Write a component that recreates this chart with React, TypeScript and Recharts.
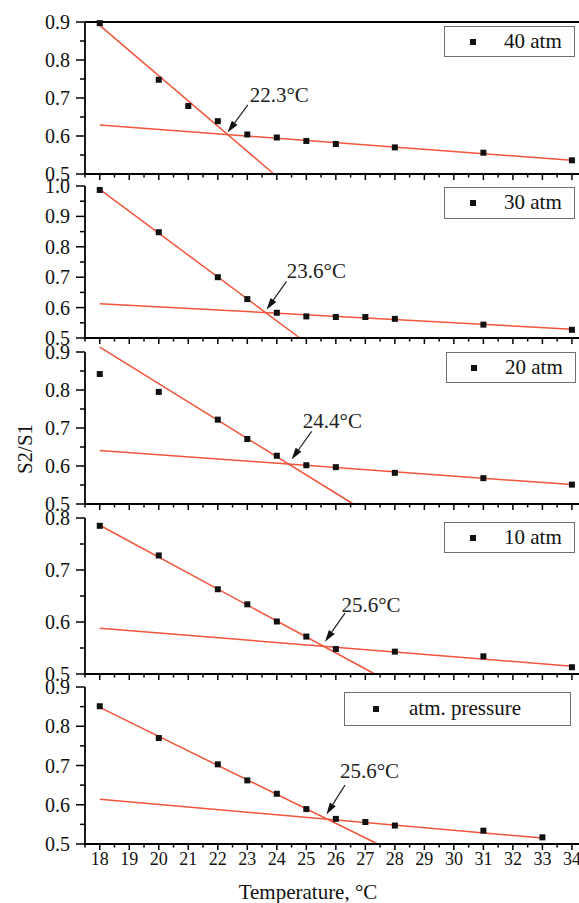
import {
  ComposedChart,
  Legend,
  ReferenceDot,
  ReferenceLine,
  Scatter,
  XAxis,
  YAxis,
} from "recharts";

const FONT = '"Liberation Serif", "Times New Roman", Times, serif';
const FIT = "#f0553b";
const INK = "#111";
const PAD = 12;
const X_DOMAIN: [number, number] = [17.5, 34.24];

// S2/S1 against temperature, one pair of arrays per pressure
const temps40 = [18, 20, 21, 22, 23, 24, 25, 26, 28, 31, 34];
const ratio40 = [0.897, 0.748, 0.679, 0.639, 0.604, 0.596, 0.587, 0.579, 0.57, 0.556, 0.536];
const temps30 = [18, 20, 22, 23, 24, 25, 26, 27, 28, 31, 34];
const ratio30 = [0.987, 0.848, 0.7, 0.628, 0.583, 0.571, 0.569, 0.569, 0.563, 0.544, 0.527];
const temps20 = [18, 20, 22, 23, 24, 25, 26, 28, 31, 34];
const ratio20 = [0.842, 0.795, 0.722, 0.671, 0.627, 0.602, 0.597, 0.582, 0.568, 0.551];
const temps10 = [18, 20, 22, 23, 24, 25, 26, 28, 31, 34];
const ratio10 = [0.785, 0.728, 0.663, 0.634, 0.601, 0.572, 0.548, 0.543, 0.534, 0.513];
const tempsAtm = [18, 20, 22, 23, 24, 25, 26, 27, 28, 31, 33];
const ratioAtm = [0.851, 0.77, 0.703, 0.662, 0.628, 0.589, 0.564, 0.556, 0.547, 0.534, 0.517];

// fitted lines: start/end temperature and start/end S2/S1
const steepT40 = [18, 23.9];
const steepS40 = [0.891, 0.5];
const flatT40 = [18, 34];
const flatS40 = [0.629, 0.536];
const steepT30 = [18, 24.78];
const steepS30 = [0.989, 0.5];
const flatT30 = [18, 34];
const flatS30 = [0.613, 0.529];
const steepT20 = [18, 26.59];
const steepS20 = [0.913, 0.5];
const flatT20 = [18, 34];
const flatS20 = [0.641, 0.551];
const steepT10 = [18, 27.32];
const steepS10 = [0.786, 0.5];
const flatT10 = [18, 34];
const flatS10 = [0.588, 0.515];
const steepTAtm = [18, 27.42];
const steepSAtm = [0.848, 0.5];
const flatTAtm = [18, 33];
const flatSAtm = [0.614, 0.515];

const legendLabels = ["40 atm", "30 atm", "20 atm", "10 atm", "atm. pressure"];
const breakLabels = ["22.3°C", "23.6°C", "24.4°C", "25.6°C", "25.6°C"];

// annotation text anchor, arrow tail and arrow tip (temperature, S2/S1)
const noteAt = [
  [23.08, 0.69],
  [24.34, 0.698],
  [24.88, 0.701],
  [26.19, 0.619],
  [26.14, 0.668],
];
const arrowFrom = [
  [23.02, 0.682],
  [24.33, 0.686],
  [25.18, 0.691],
  [26.31, 0.617],
  [26.31, 0.65],
];
const arrowTo = [
  [22.33, 0.609],
  [23.65, 0.593],
  [24.5, 0.617],
  [25.63, 0.562],
  [25.68, 0.575],
];

const xMajorTicks = [18, 19, 20, 21, 22, 23, 24, 25, 26, 27, 28, 29, 30, 31, 32, 33, 34];
const xTicks = xMajorTicks.flatMap((t) => [t - 0.5, t]);
const yTicks09 = [0.5, 0.55, 0.6, 0.65, 0.7, 0.75, 0.8, 0.85, 0.9];
const yTicks10 = [0.5, 0.55, 0.6, 0.65, 0.7, 0.75, 0.8, 0.85, 0.9, 0.95, 1.0];
const yTicks08 = [0.5, 0.55, 0.6, 0.65, 0.7, 0.75, 0.8];

type Box = { left: number; top: number; w: number; h: number; mark: number; text: number };

type Panel = {
  top: number;
  plotH: number;
  axisH: number;
  yMax: number;
  yTicks: number[];
  temps: number[];
  ratios: number[];
  steepT: number[];
  steepS: number[];
  flatT: number[];
  flatS: number[];
  box: Box;
  topBorder?: boolean;
};

const panels: Panel[] = [
  {
    top: 22, plotH: 152, axisH: 12, yMax: 0.9, yTicks: yTicks09,
    temps: temps40, ratios: ratio40, steepT: steepT40, steepS: steepS40, flatT: flatT40, flatS: flatS40,
    box: { left: 444, top: 16, w: 131, h: 31, mark: 28, text: 59 }, topBorder: true,
  },
  {
    top: 186, plotH: 152, axisH: 12, yMax: 1.0, yTicks: yTicks10,
    temps: temps30, ratios: ratio30, steepT: steepT30, steepS: steepS30, flatT: flatT30, flatS: flatS30,
    box: { left: 444, top: 13, w: 131, h: 32, mark: 28, text: 59 },
  },
  {
    top: 352, plotH: 152, axisH: 12, yMax: 0.9, yTicks: yTicks09,
    temps: temps20, ratios: ratio20, steepT: steepT20, steepS: steepS20, flatT: flatT20, flatS: flatS20,
    box: { left: 446, top: 12, w: 130, h: 31, mark: 27, text: 58 },
  },
  {
    top: 518, plotH: 156, axisH: 12, yMax: 0.8, yTicks: yTicks08,
    temps: temps10, ratios: ratio10, steepT: steepT10, steepS: steepS10, flatT: flatT10, flatS: flatS10,
    box: { left: 444, top: 16, w: 131, h: 31, mark: 28, text: 59 },
  },
  {
    top: 687, plotH: 157, axisH: 59, yMax: 0.9, yTicks: yTicks09,
    temps: tempsAtm, ratios: ratioAtm, steepT: steepTAtm, steepS: steepSAtm, flatT: flatTAtm, flatS: flatSAtm,
    box: { left: 344, top: 17, w: 227, h: 34, mark: 31, text: 64 },
  },
];

const axisStyle = { stroke: "#000", strokeWidth: 1.8 };

const XTick = (props: any) => {
  const { x, y, payload, showLabel } = props;
  const v = payload.value;
  const major = Number.isInteger(v);
  return (
    <g>
      <line x1={x} y1={y} x2={x} y2={y + (major ? 6 : 3.5)} stroke="#000" strokeWidth={1.5} />
      {showLabel && major && (
        <text x={x} y={y + 21} textAnchor="middle" fontFamily={FONT} fontSize={18} fill="#111">
          {v}
        </text>
      )}
    </g>
  );
};

const YTick = (props: any) => {
  const { x, y, payload } = props;
  const v = payload.value;
  const major = Math.abs(v * 10 - Math.round(v * 10)) < 1e-6;
  return (
    <g>
      <line x1={x - (major ? 9 : 5)} y1={y} x2={x} y2={y} stroke="#000" strokeWidth={1.5} />
      {major && (
        <text x={x - 15} y={y} dy="0.35em" textAnchor="end" fontFamily={FONT} fontSize={20} fill="#111">
          {v.toFixed(1)}
        </text>
      )}
    </g>
  );
};

const Square = (props: any) => (
  <rect x={props.cx - 3} y={props.cy - 3} width={6} height={6} fill={INK} />
);

const Arrow = (props: any) => {
  const { x1, y1, x2, y2 } = props;
  const dx = x2 - x1;
  const dy = y2 - y1;
  const len = Math.hypot(dx, dy) || 1;
  const ux = dx / len;
  const uy = dy / len;
  const head = 12;
  const half = 3.5;
  const bx = x2 - ux * head;
  const by = y2 - uy * head;
  const px = -uy * half;
  const py = ux * half;
  return (
    <g>
      <line x1={x1} y1={y1} x2={bx} y2={by} stroke="#222" strokeWidth={1.2} />
      <polygon points={`${x2},${y2} ${bx + px},${by + py} ${bx - px},${by - py}`} fill="#111" />
    </g>
  );
};

const LegendBox = ({ box, label }: { box: Box; label: string }) => (
  <div
    style={{
      position: "relative",
      width: box.w,
      height: box.h,
      boxSizing: "border-box",
      border: "1.5px solid #707070",
      background: "#fff",
      fontFamily: FONT,
      fontSize: 21,
      color: "#111",
    }}
  >
    <div
      style={{
        position: "absolute",
        left: box.mark - 3,
        top: box.h / 2 - 4,
        width: 6,
        height: 6,
        background: INK,
      }}
    />
    <span style={{ position: "absolute", left: box.text, top: 0, lineHeight: `${box.h - 3}px`, whiteSpace: "nowrap" }}>
      {label}
    </span>
  </div>
);

const PanelChart = ({ p, i }: { p: Panel; i: number }) => {
  const last = i === panels.length - 1;
  const points = p.temps.map((t, k) => ({ x: t, y: p.ratios[k] }));
  const chartH = PAD + p.plotH + p.axisH;
  return (
    <div style={{ position: "absolute", left: 0, top: p.top - PAD }}>
      <ComposedChart width={579} height={chartH} margin={{ top: PAD, right: 0, bottom: 0, left: 0 }}>
        <XAxis
          type="number"
          dataKey="x"
          domain={X_DOMAIN}
          ticks={xTicks}
          interval={0}
          height={p.axisH}
          tickSize={0}
          tickMargin={0}
          tickLine={false}
          axisLine={axisStyle}
          tick={(t: any) => <XTick {...t} showLabel={last} />}
          label={
            last
              ? (lp: any) => (
                  <text
                    x={lp.viewBox.x + 223}
                    y={lp.viewBox.y + 55}
                    textAnchor="middle"
                    fontFamily={FONT}
                    fontSize={21}
                    fill="#111"
                  >
                    Temperature, °C
                  </text>
                )
              : undefined
          }
        />
        <YAxis
          type="number"
          dataKey="y"
          domain={[0.5, p.yMax]}
          ticks={p.yTicks}
          interval={0}
          width={85}
          tickSize={0}
          tickMargin={0}
          tickLine={false}
          axisLine={axisStyle}
          tick={(t: any) => <YTick {...t} />}
          label={
            i === 2
              ? (lp: any) => {
                  const cx = lp.viewBox.x + 25;
                  const cy = lp.viewBox.y + lp.viewBox.height / 2 + 21;
                  return (
                    <text
                      x={cx}
                      y={cy}
                      dy="0.35em"
                      transform={`rotate(-90, ${cx}, ${cy})`}
                      textAnchor="middle"
                      fontFamily={FONT}
                      fontSize={21}
                      fill="#111"
                    >
                      S2/S1
                    </text>
                  );
                }
              : undefined
          }
        />
        {p.topBorder && <ReferenceLine y={p.yMax} stroke="#000" strokeWidth={1.8} />}
        <ReferenceLine
          segment={[
            { x: p.steepT[0], y: p.steepS[0] },
            { x: p.steepT[1], y: p.steepS[1] },
          ]}
          stroke={FIT}
          strokeWidth={1.5}
          ifOverflow="visible"
        />
        <ReferenceLine
          segment={[
            { x: p.flatT[0], y: p.flatS[0] },
            { x: p.flatT[1], y: p.flatS[1] },
          ]}
          stroke={FIT}
          strokeWidth={1.5}
          ifOverflow="visible"
        />
        <Scatter data={points} name={legendLabels[i]} shape={Square} isAnimationActive={false} />
        <ReferenceLine
          segment={[
            { x: arrowFrom[i][0], y: arrowFrom[i][1] },
            { x: arrowTo[i][0], y: arrowTo[i][1] },
          ]}
          ifOverflow="visible"
          shape={Arrow}
        />
        <ReferenceDot
          x={noteAt[i][0]}
          y={noteAt[i][1]}
          r={0}
          ifOverflow="visible"
          shape={(d: any) => (
            <text x={d.cx} y={d.cy} fontFamily={FONT} fontSize={21} fill="#222">
              {breakLabels[i]}
            </text>
          )}
        />
        <Legend
          layout="horizontal"
          verticalAlign="middle"
          align="center"
          wrapperStyle={{ left: p.box.left, top: p.box.top, width: p.box.w, height: p.box.h }}
          content={() => <LegendBox box={p.box} label={legendLabels[i]} />}
        />
      </ComposedChart>
    </div>
  );
}

export default function App() {
  return (
    <div style={{ position: "absolute", left: 0, top: 0, width: 579, height: 903, background: "#fff" }}>
      {panels.map((p, i) => (
        <PanelChart key={i} p={p} i={i} />
      ))}
    </div>
  );
}
